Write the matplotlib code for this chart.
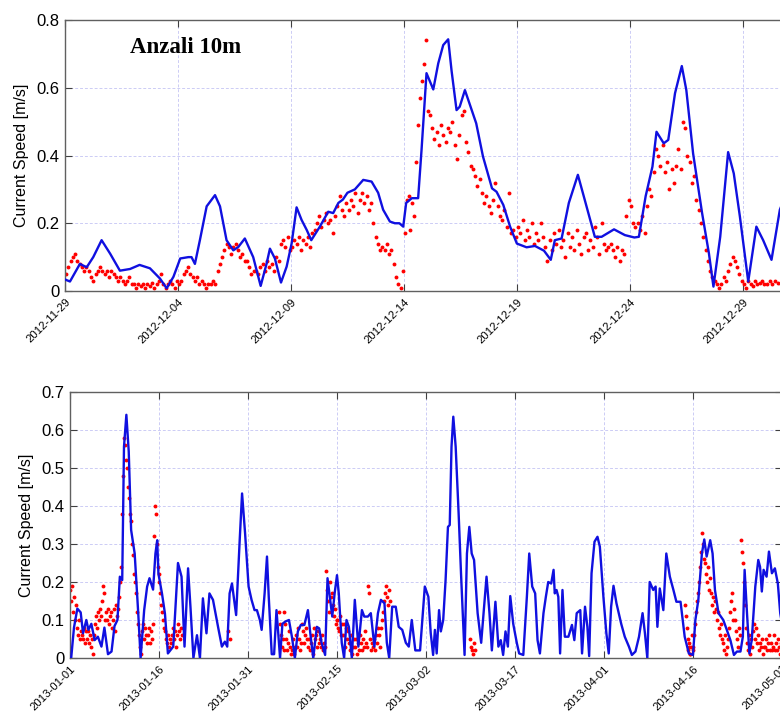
import matplotlib
matplotlib.use("Agg")
import matplotlib.pyplot as plt
import matplotlib.dates as mdates
import numpy as np
import datetime as dt

# ---------------- DATA ----------------
top_start = dt.datetime(2012, 11, 29)
top_end = dt.datetime(2012, 12, 31)
top_ticks = ["2012-11-29", "2012-12-04", "2012-12-09", "2012-12-14",
             "2012-12-19", "2012-12-24", "2012-12-29"]

# model (blue) : day offset from 2012-11-29, speed
model_top_day = [0, 0.22, 0.66, 0.96, 1.25, 1.62, 2.0, 2.43, 2.88, 3.3, 3.76, 4.2, 4.5, 4.8,
                 5.1, 5.46, 5.6, 5.75, 5.97, 6.27, 6.64, 6.86, 7.15, 7.45, 7.67, 7.96, 8.33,
                 8.66, 8.92, 9.07, 9.29, 9.56, 9.81, 10.03, 10.25, 10.47, 10.7, 10.9, 11.28,
                 11.65, 11.87, 12.1, 12.3, 12.5, 12.83, 13.2, 13.57, 13.86, 14.08, 14.38,
                 14.6, 14.8, 14.97, 15.1, 15.35, 15.63, 15.78, 16.0, 16.3, 16.52, 16.74,
                 16.96, 17.11, 17.33, 17.47, 17.7, 17.9, 18.2, 18.5, 18.9, 19.1, 19.4, 19.7,
                 20.0, 20.43, 20.8, 21.2, 21.5, 21.68, 21.98, 22.3, 22.7, 23.0, 23.45, 23.75,
                 24.3, 24.78, 25.2, 25.4, 25.7, 26.0, 26.18, 26.5, 26.7, 27.0, 27.3, 27.5,
                 27.8, 28.2, 28.5, 28.7, 29.0, 29.35, 29.6, 29.87, 30.24, 30.6, 30.9, 31.27,
                 31.64, 32.0]
model_top_val = [0.034, 0.028, 0.08, 0.07, 0.10, 0.15, 0.11, 0.06, 0.065, 0.077, 0.067, 0.037,
                 0.008, 0.042, 0.096, 0.10, 0.10, 0.08, 0.15, 0.25, 0.283, 0.25, 0.15, 0.12,
                 0.13, 0.155, 0.10, 0.015, 0.08, 0.125, 0.096, 0.025, 0.072, 0.14, 0.247, 0.21,
                 0.18, 0.15, 0.19, 0.234, 0.23, 0.26, 0.27, 0.29, 0.30, 0.328, 0.323, 0.29,
                 0.24, 0.205, 0.20, 0.20, 0.19, 0.26, 0.274, 0.274, 0.416, 0.643, 0.595, 0.672,
                 0.726, 0.743, 0.65, 0.534, 0.544, 0.593, 0.554, 0.495, 0.397, 0.303, 0.293,
                 0.254, 0.19, 0.14, 0.129, 0.133, 0.119, 0.092, 0.15, 0.155, 0.26, 0.343, 0.27,
                 0.16, 0.16, 0.182, 0.165, 0.158, 0.16, 0.28, 0.367, 0.47, 0.436, 0.446, 0.584,
                 0.664, 0.593, 0.406, 0.229, 0.111, 0.013, 0.16, 0.41, 0.347, 0.22, 0.028, 0.19,
                 0.15, 0.092, 0.24, 0.30]

# observations (red): one list per day starting 2012-11-29
obs_top = [
    [0.05, 0.07, 0.09, 0.10, 0.11, 0.09, 0.08, 0.07, 0.06, 0.07],
    [0.06, 0.04, 0.03, 0.05, 0.06, 0.07, 0.06, 0.05, 0.06, 0.04],
    [0.06, 0.05, 0.04, 0.03, 0.04, 0.03, 0.02, 0.03, 0.04, 0.02],
    [0.02, 0.01, 0.02, 0.015, 0.02, 0.01, 0.02, 0.015, 0.025, 0.01],
    [0.02, 0.03, 0.05, 0.02, 0.01, 0.02, 0.03, 0.02, 0.01, 0.03],
    [0.02, 0.03, 0.05, 0.06, 0.07, 0.05, 0.04, 0.03, 0.04, 0.02],
    [0.03, 0.02, 0.01, 0.02, 0.02, 0.03, 0.02, 0.06, 0.08, 0.10],
    [0.12, 0.14, 0.13, 0.11, 0.13, 0.14, 0.12, 0.10, 0.11, 0.09],
    [0.09, 0.07, 0.05, 0.06, 0.06, 0.05, 0.07, 0.08, 0.06, 0.09],
    [0.07, 0.08, 0.06, 0.10, 0.09, 0.14, 0.15, 0.13, 0.16, 0.12],
    [0.13, 0.15, 0.14, 0.16, 0.12, 0.15, 0.14, 0.16, 0.13, 0.17],
    [0.18, 0.20, 0.22, 0.19, 0.21, 0.23, 0.20, 0.21, 0.17, 0.22],
    [0.25, 0.28, 0.24, 0.22, 0.26, 0.24, 0.27, 0.25, 0.29, 0.23],
    [0.27, 0.29, 0.26, 0.28, 0.24, 0.26, 0.20, 0.16, 0.14, 0.12],
    [0.13, 0.12, 0.14, 0.11, 0.12, 0.08, 0.04, 0.02, 0.01, 0.06],
    [0.17, 0.27, 0.28, 0.18, 0.26, 0.22, 0.38, 0.49, 0.57, 0.62, 0.67, 0.74],
    [0.53, 0.52, 0.48, 0.45, 0.47, 0.43, 0.49, 0.46, 0.44, 0.48],
    [0.47, 0.50, 0.43, 0.39, 0.46, 0.52, 0.53, 0.44, 0.41, 0.37],
    [0.36, 0.34, 0.31, 0.33, 0.29, 0.26, 0.28, 0.25, 0.23, 0.27],
    [0.32, 0.25, 0.22, 0.21, 0.24, 0.19, 0.29, 0.17, 0.18, 0.16],
    [0.19, 0.17, 0.21, 0.15, 0.18, 0.16, 0.20, 0.14, 0.17, 0.15],
    [0.20, 0.16, 0.13, 0.09, 0.15, 0.12, 0.17, 0.14, 0.18, 0.13],
    [0.15, 0.10, 0.17, 0.13, 0.16, 0.12, 0.18, 0.14, 0.11, 0.16],
    [0.17, 0.12, 0.15, 0.13, 0.19, 0.16, 0.11, 0.20, 0.14, 0.12],
    [0.13, 0.14, 0.12, 0.10, 0.13, 0.09, 0.12, 0.11, 0.22, 0.27],
    [0.25, 0.20, 0.19, 0.20, 0.18, 0.22, 0.17, 0.25, 0.30, 0.28],
    [0.35, 0.42, 0.40, 0.37, 0.43, 0.35, 0.38, 0.30, 0.36, 0.32],
    [0.37, 0.42, 0.36, 0.50, 0.48, 0.40, 0.38, 0.32, 0.34, 0.27],
    [0.24, 0.20, 0.16, 0.12, 0.09, 0.06, 0.04, 0.03, 0.02, 0.01],
    [0.02, 0.04, 0.03, 0.06, 0.08, 0.10, 0.09, 0.07, 0.05, 0.03],
    [0.02, 0.01, 0.03, 0.02, 0.015, 0.03, 0.02, 0.025, 0.03, 0.02],
    [0.02, 0.03, 0.02, 0.03, 0.025, 0.02, 0.03, 0.02],
]

bot_start = dt.datetime(2013, 1, 1)
bot_end = dt.datetime(2013, 5, 1)
bot_ticks = ["2013-01-01", "2013-01-16", "2013-01-31", "2013-02-15", "2013-03-02",
             "2013-03-17", "2013-04-01", "2013-04-16", "2013-05-01"]

model_bot_day = [0.2, 0.67, 1.24, 1.8, 2.2, 2.75, 3.1, 3.6, 4.15, 4.7, 5.3, 5.8, 6.4, 7.0, 7.5,
                 8.0, 8.4, 8.8, 9.1, 9.5, 9.9, 10.3, 10.9, 11.5, 11.9, 12.5, 13.0, 13.4, 14.0,
                 14.4, 14.7, 14.9, 15.5, 16.0, 16.5, 17.4, 18.2, 18.8, 19.3, 19.9, 20.3, 20.8,
                 21.4, 21.9, 22.4, 23.0, 23.5, 24.1, 25.0, 25.6, 26.1, 26.5, 26.9, 27.3, 28.0,
                 28.6, 29.0, 29.5, 30.1, 30.6, 31.1, 31.5, 32.0, 32.3, 32.8, 33.2, 33.5, 34.0,
                 34.4, 34.8, 35.1, 35.4, 35.8, 36.3, 36.9, 37.4, 37.9, 38.4, 38.9, 39.5, 40.1,
                 40.5, 41.0, 41.6, 42.0, 42.4, 43.0, 43.4, 43.8, 44.2, 44.6, 45.0, 45.3, 45.8,
                 46.2, 46.6, 47.0, 47.5, 48.0, 48.6, 49.2, 49.6, 50.2, 50.7, 51.3, 51.9, 52.4,
                 53.0, 53.4, 53.8, 54.3, 54.9, 55.4, 56.0, 56.6, 57.1, 57.6, 58.2, 59.0, 59.8,
                 60.4, 60.8, 61.2, 61.5, 61.8, 62.2, 62.5, 62.9, 63.3, 63.7, 64.0, 64.3, 64.6,
                 65.0, 65.5, 65.9, 66.5, 66.9, 67.3, 67.7, 68.1, 68.7, 69.3, 69.7, 70.2, 70.7,
                 71.1, 71.7, 72.2, 72.6, 73.0, 73.4, 73.8, 74.2, 74.7, 75.3, 75.7, 76.4, 77.0,
                 77.4, 77.9, 78.4, 78.8, 79.2, 79.8, 80.2, 80.6, 81.1, 81.5, 81.7, 82.0, 82.3,
                 82.6, 83.0, 83.4, 84.0, 84.6, 85.0, 85.4, 86.0, 86.3, 86.8, 87.2, 87.5, 87.9,
                 88.4, 88.9, 89.3, 89.9, 90.4, 90.8, 91.2, 91.6, 92.1, 92.9, 93.5, 94.2, 94.7,
                 95.3, 95.9, 96.5, 96.9, 97.3, 97.7, 98.3, 98.7, 99.0, 99.4, 100.0, 100.5,
                 101.1, 101.7, 102.2, 102.9, 103.6, 104.3, 105.0, 105.4, 105.9, 106.5, 106.9,
                 107.3, 107.9, 108.3, 108.7, 109.3, 110.1, 110.7, 111.3, 111.9, 112.4, 113.0,
                 113.4, 113.7, 114.1, 114.5, 114.9, 115.5, 116.0, 116.3, 116.6, 116.9, 117.4,
                 117.8, 118.3, 118.8, 119.3, 119.7, 120.0]
model_bot_val = [0.0, 0.08, 0.13, 0.12, 0.065, 0.10, 0.074, 0.09, 0.047, 0.056, 0.03, 0.08, 0.01,
                 0.017, 0.084, 0.10, 0.214, 0.205, 0.556, 0.64, 0.543, 0.337, 0.275, 0.118, 0.0,
                 0.126, 0.188, 0.21, 0.18, 0.275, 0.31, 0.222, 0.17, 0.117, 0.012, 0.03, 0.25,
                 0.214, 0.03, 0.236, 0.135, 0.0, 0.06, 0.0, 0.157, 0.065, 0.17, 0.153, 0.078,
                 0.03, 0.043, 0.03, 0.17, 0.196, 0.113, 0.31, 0.433, 0.33, 0.188, 0.153, 0.126,
                 0.126, 0.10, 0.074, 0.17, 0.267, 0.16, 0.01, 0.01, 0.126, 0.065, 0.0, 0.09,
                 0.096, 0.10, 0.056, 0.0, 0.07, 0.087, 0.087, 0.126, 0.065, 0.0, 0.082, 0.078,
                 0.04, 0.008, 0.21, 0.16, 0.109, 0.17, 0.218, 0.17, 0.04, 0.0, 0.10, 0.082, 0.0,
                 0.153, 0.03, 0.126, 0.109, 0.109, 0.118, 0.03, 0.118, 0.153, 0.144, 0.04, 0.0,
                 0.135, 0.135, 0.082, 0.074, 0.04, 0.03, 0.10, 0.02, 0.02, 0.188, 0.161, 0.065,
                 0.008, 0.074, 0.012, 0.126, 0.07, 0.10, 0.205, 0.345, 0.35, 0.556, 0.635, 0.556,
                 0.38, 0.223, 0.008, 0.275, 0.345, 0.275, 0.258, 0.118, 0.04, 0.118, 0.214,
                 0.118, 0.02, 0.148, 0.03, 0.047, 0.008, 0.07, 0.03, 0.163, 0.09, 0.04, 0.012,
                 0.008, 0.161, 0.275, 0.188, 0.17, 0.047, 0.012, 0.118, 0.161, 0.20, 0.196,
                 0.232, 0.17, 0.179, 0.161, 0.012, 0.179, 0.056, 0.056, 0.087, 0.047, 0.118,
                 0.126, 0.012, 0.135, 0.082, 0.005, 0.223, 0.306, 0.319, 0.293, 0.161, 0.065,
                 0.012, 0.135, 0.19, 0.144, 0.09, 0.056, 0.03, 0.008, 0.017, 0.056, 0.118, 0.065,
                 0.0, 0.20, 0.179, 0.188, 0.082, 0.183, 0.126, 0.275, 0.214, 0.179, 0.148, 0.148,
                 0.056, 0.012, 0.008, 0.10, 0.153, 0.275, 0.312, 0.267, 0.31, 0.275, 0.179,
                 0.118, 0.10, 0.074, 0.047, 0.008, 0.017, 0.017, 0.056, 0.232, 0.118, 0.012,
                 0.047, 0.188, 0.258, 0.24, 0.175, 0.232, 0.214, 0.28, 0.223, 0.236, 0.196,
                 0.118, 0.09]

# observations bottom: start day offset of each group, values of that group (one day each)
obs_bot_start = [0, 1, 2, 3, 4, 5, 6, 7, 8, 9, 10, 11, 12, 13, 14, 15, 16, 17, 18,
                 26.3,
                 35.1, 36, 37, 38, 39, 40, 41, 42, 43, 44, 45, 46, 47, 48, 49, 50, 51, 52, 53,
                 67.4,
                 103.5, 104, 105, 106, 107, 108, 109, 110, 111, 112, 113, 114, 115, 116, 117,
                 118, 119]
obs_bot_vals = [
    [0.18, 0.15, 0.19, 0.12, 0.16, 0.10],
    [0.14, 0.08, 0.06, 0.10, 0.05, 0.07],
    [0.06, 0.05, 0.08, 0.04, 0.07, 0.05],
    [0.07, 0.04, 0.06, 0.03, 0.05, 0.01],
    [0.06, 0.09, 0.11, 0.08, 0.12, 0.10],
    [0.13, 0.11, 0.15, 0.19, 0.17, 0.10],
    [0.12, 0.10, 0.13, 0.09, 0.11, 0.12],
    [0.08, 0.10, 0.13, 0.07, 0.14, 0.11],
    [0.13, 0.16, 0.20, 0.24, 0.38, 0.48],
    [0.58, 0.56, 0.52, 0.50, 0.45, 0.42],
    [0.38, 0.36, 0.30, 0.27, 0.22, 0.20],
    [0.17, 0.12, 0.09, 0.06, 0.03, 0.01],
    [0.07, 0.09, 0.05, 0.08, 0.06, 0.04],
    [0.06, 0.08, 0.04, 0.07, 0.05, 0.09],
    [0.32, 0.40, 0.38, 0.30, 0.24, 0.22],
    [0.20, 0.17, 0.14, 0.12, 0.10, 0.08],
    [0.07, 0.05, 0.04, 0.06, 0.03, 0.05],
    [0.04, 0.06, 0.08, 0.05, 0.07, 0.03],
    [0.06, 0.09, 0.07, 0.05, 0.08, 0.06],
    [0.07, 0.05],
    [0.12, 0.09, 0.06, 0.03, 0.05, 0.02],
    [0.12, 0.09, 0.05, 0.02, 0.04, 0.07],
    [0.03, 0.01, 0.02, 0.05, 0.01, 0.03],
    [0.06, 0.03, 0.08, 0.05, 0.02, 0.04],
    [0.09, 0.07, 0.04, 0.06, 0.08, 0.05],
    [0.03, 0.05, 0.02, 0.04, 0.06, 0.01],
    [0.08, 0.05, 0.06, 0.03, 0.07, 0.04],
    [0.05, 0.03, 0.06, 0.02, 0.04, 0.03],
    [0.23, 0.18, 0.15, 0.12, 0.20, 0.16],
    [0.17, 0.14, 0.11, 0.13, 0.09, 0.10],
    [0.10, 0.08, 0.07, 0.11, 0.06, 0.09],
    [0.06, 0.09, 0.03, 0.08, 0.05, 0.07],
    [0.04, 0.02, 0.06, 0.01, 0.03, 0.05],
    [0.03, 0.05, 0.01, 0.04, 0.02, 0.06],
    [0.04, 0.02, 0.05, 0.03, 0.07, 0.04],
    [0.03, 0.19, 0.17, 0.05, 0.02, 0.04],
    [0.03, 0.05, 0.02, 0.06, 0.04, 0.08],
    [0.06, 0.03, 0.08, 0.10, 0.12, 0.15],
    [0.17, 0.19, 0.16, 0.14, 0.18, 0.15],
    [0.05, 0.03, 0.02, 0.01, 0.04, 0.02],
    [0.14, 0.11, 0.08, 0.05, 0.03, 0.01],
    [0.02, 0.04, 0.01, 0.03, 0.06, 0.02],
    [0.03, 0.06, 0.09, 0.12, 0.15, 0.17],
    [0.20, 0.24, 0.28, 0.33, 0.30, 0.26],
    [0.25, 0.22, 0.20, 0.24, 0.18, 0.21],
    [0.17, 0.14, 0.16, 0.12, 0.15, 0.13],
    [0.10, 0.12, 0.08, 0.06, 0.09, 0.05],
    [0.04, 0.02, 0.06, 0.01, 0.03, 0.05],
    [0.08, 0.12, 0.15, 0.17, 0.10, 0.13],
    [0.10, 0.07, 0.05, 0.03, 0.08, 0.06],
    [0.31, 0.28, 0.25, 0.20, 0.14, 0.08],
    [0.04, 0.02, 0.06, 0.01, 0.05, 0.03],
    [0.07, 0.09, 0.05, 0.08, 0.04, 0.06],
    [0.02, 0.04, 0.03, 0.05, 0.01, 0.03],
    [0.03, 0.05, 0.02, 0.04, 0.06, 0.02],
    [0.04, 0.02, 0.03, 0.06, 0.02, 0.04],
    [0.02, 0.05, 0.03, 0.01, 0.04, 0.06],
]

top_label = "Anzali 10m"
ylabel = "Current Speed [m/s]"

# ---------------- PLOT ----------------
plt.rcParams['font.family'] = ['Liberation Sans', 'DejaVu Sans']

W, H = 780, 713
fig = plt.figure(figsize=(W / 100, H / 100), dpi=100)


def fr(l, t, r, b):
    return [l / W, 1 - b / H, (r - l) / W, (b - t) / H]


ax1 = fig.add_axes(fr(65, 20, 788, 291))
ax2 = fig.add_axes(fr(70, 392, 782, 658))

grid_col = (0.80, 0.80, 0.96)


def days_to_num(start, days):
    return mdates.date2num(start) + np.asarray(days, dtype=float)


def obs_xy(start, groups, starts=None):
    xs, ys = [], []
    for i, g in enumerate(groups):
        s = i if starts is None else starts[i]
        n = len(g)
        for k, v in enumerate(g):
            xs.append(s + (k + 0.5) / n)
            ys.append(v)
    return days_to_num(start, xs), np.array(ys)


def style(ax, start, end, ticks, ymax, ystep):
    ax.set_xlim(mdates.date2num(start), mdates.date2num(end))
    ax.set_ylim(0, ymax)
    tnum = [mdates.date2num(dt.datetime.strptime(t, "%Y-%m-%d")) for t in ticks]
    ax.set_xticks(tnum)
    ax.set_xticklabels(ticks, rotation=45, ha='right', rotation_mode='anchor',
                       fontsize=8.2)
    yt = np.round(np.arange(0, ymax + 1e-9, ystep), 2)
    ax.set_yticks(yt)
    ax.set_yticklabels(["0" if v == 0 else ("%g" % v) for v in yt], fontsize=12)
    ax.grid(True, color=grid_col, linestyle=(0, (3, 2)), linewidth=0.7)
    ax.set_axisbelow(True)
    ax.tick_params(direction='in', top=True, right=True, length=5, width=0.8,
                   colors='#404040', labelcolor='black', pad=4)
    for s in ax.spines.values():
        s.set_color('#606060')
        s.set_linewidth(1.0)
    ax.set_ylabel(ylabel, fontsize=11.5, labelpad=5)


# top panel
x_obs, y_obs = obs_xy(top_start, obs_top)
ax1.plot(x_obs, y_obs, 'o', color='red', markersize=2.8, markeredgewidth=0, zorder=2)
ax1.plot(days_to_num(top_start, model_top_day), model_top_val, '-', color='#1010e0',
         linewidth=1.7, zorder=3)
style(ax1, top_start, top_end, top_ticks, 0.8, 0.2)
ax1.text(0.09, 0.897, top_label, transform=ax1.transAxes, fontsize=16.5,
         fontweight='bold', family=['Liberation Serif', 'DejaVu Serif'], va='center')

# bottom panel
x_obs, y_obs = obs_xy(bot_start, obs_bot_vals, obs_bot_start)
ax2.plot(x_obs, y_obs, 'o', color='red', markersize=2.8, markeredgewidth=0, zorder=2)
ax2.plot(days_to_num(bot_start, model_bot_day), model_bot_val, '-', color='#1010e0',
         linewidth=1.7, zorder=3)
style(ax2, bot_start, bot_end, bot_ticks, 0.7, 0.1)

fig.savefig("out.png", dpi=100)
